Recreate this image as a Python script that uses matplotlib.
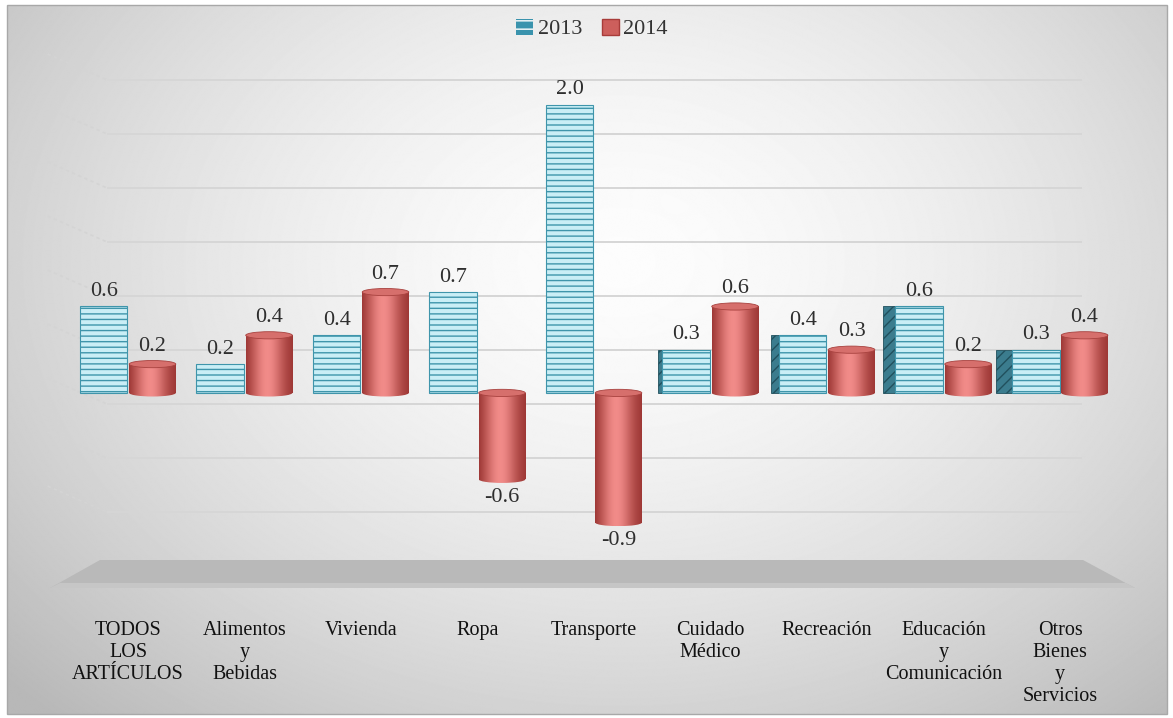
import numpy as np
import matplotlib.pyplot as plt
from matplotlib.patches import Rectangle, Ellipse, Polygon, Patch

# ---- data ----
categorias = ["TODOS\nLOS\nARTÍCULOS", "Alimentos\ny\nBebidas", "Vivienda", "Ropa",
              "Transporte", "Cuidado\nMédico", "Recreación",
              "Educación\ny\nComunicación", "Otros\nBienes\ny\nServicios"]
v2013 = [0.6, 0.2, 0.4, 0.7, 2.0, 0.3, 0.4, 0.6, 0.3]
v2014 = [0.2, 0.4, 0.7, -0.6, -0.9, 0.6, 0.3, 0.2, 0.4]
series = ["2013", "2014"]
pared = [-1.5, -1.0, -0.5, 0.0, 0.5, 1.0, 1.5, 2.0, 2.5]   # back wall grid levels

plt.rcParams['font.family'] = ['Liberation Serif', 'DejaVu Serif']
W, H = 1173, 718
fig = plt.figure(figsize=(W / 100, H / 100), dpi=100)

# ---- background, border and floor (pixel coords) ----
bg = fig.add_axes([0, 0, 1, 1])
bg.set_xlim(0, W)
bg.set_ylim(H, 0)
bg.axis('off')
yy, xx = np.mgrid[0:H, 0:W]
r = np.sqrt(((xx - 620) / 700) ** 2 + ((yy - 260) / 520) ** 2)
shade = np.clip(0.99 - 0.2 * r ** 1.6, 0.72, 1)
bg.imshow(shade, cmap='gray', vmin=0, vmax=1, extent=(7, W - 6, H - 4, 5), aspect='auto')
bg.add_patch(Rectangle((7, 5), W - 13, H - 9, fill=False, ec='#a8a8a8', lw=1))
bg.add_patch(Polygon([(100, 560), (1083, 560), (1135, 588), (50, 588)],
                     fc='#b9b9b9', ec='none'))
bg.add_patch(Polygon([(60, 583), (1126, 583), (1135, 588), (50, 588)],
                     fc='#c6c6c6', ec='none'))

# ---- main axes ----
ax = fig.add_axes([60 / W, (H - 560) / H, (1130 - 60) / W, (560 - 40) / H])
wall = ax.twinx()
wall.set_zorder(0)
ax.set_zorder(1)
ax.patch.set_visible(False)
wall.patch.set_visible(False)
ax.set_autoscale_on(False)
ax.set_xlim(-0.584, 8.6)
ax.set_ylim(-1.16, 2.45)
wall.set_ylim(-1.944, 2.870)
for a in (ax, wall):
    for s in a.spines.values():
        s.set_visible(False)
    a.set_yticks([])

# back wall grid and side wall dashes
wall.hlines(pared, -0.18, 8.19, color='#d6d6d6', lw=1.4)
for g in pared:
    wall.plot([-0.69, -0.18], [g + 0.24, g], color='#d4d4d4', lw=1.2,
              ls=(0, (2, 2)), clip_on=False)

x = np.arange(len(categorias))
wb = 0.41
wr = 0.40
off = 0.21

# 2013: hatched boxes with side face toward the centre
for xi, v in zip(x, v2013):
    if xi > 4:
        sw = 0.034 * (xi - 4)
        ax.add_patch(Rectangle((xi - off - wb / 2 - sw, 0), sw, v, fc='#3b7c8e',
                               ec='#21505d', hatch='///', lw=0.6, zorder=2.5))
ax.bar(x - off, v2013, wb, color='#c9eef6', edgecolor='#3f95ab', hatch='---',
       lw=0.8, zorder=3)

# 2014: cylinders
t = np.linspace(0, 1, 80)
light = np.sin(np.pi * t) ** 0.7 * np.exp(-((t - 0.42) / 0.45) ** 2)
dark = np.array([0.62, 0.22, 0.21])
lite = np.array([0.95, 0.55, 0.54])
grad = (dark[None, :] + light[:, None] * (lite - dark)[None, :])[None, :, :]
eh = 0.05
for xi, v in zip(x, v2014):
    x0 = xi + off - wr / 2
    lo, hi = min(0, v), max(0, v)
    body = Rectangle((x0, lo), wr, hi - lo, fc='none', ec='none')
    ax.add_patch(body)
    im = ax.imshow(grad, extent=(x0, x0 + wr, lo, hi), aspect='auto', zorder=3.5)
    im.set_clip_path(body)
    base = Ellipse((xi + off, lo), wr, eh, fc='none', ec='none')
    ax.add_patch(base)
    im2 = ax.imshow(grad, extent=(x0, x0 + wr, lo - eh / 2, lo), aspect='auto', zorder=3.5)
    im2.set_clip_path(base)
    ax.add_patch(Ellipse((xi + off, hi), wr, eh, fc='#d66f6c', ec='#a8423f',
                         lw=0.6, zorder=4))

# value labels
for xi, v in zip(x, v2013):
    ax.annotate(f"{v:.1f}", (xi - off, v), xytext=(0, 4), textcoords='offset points',
                ha='center', va='bottom', fontsize=16, color='#2e2e2e', zorder=5)
for xi, v in zip(x, v2014):
    if v >= 0:
        ax.annotate(f"{v:.1f}", (xi + off, v), xytext=(0, 6), textcoords='offset points',
                    ha='center', va='bottom', fontsize=16, color='#2e2e2e', zorder=5)
    else:
        ax.annotate(f"{v:.1f}", (xi + off, v), xytext=(0, -6), textcoords='offset points',
                    ha='center', va='top', fontsize=16, color='#2e2e2e', zorder=5)

# category labels
ax.set_xticks(x, categorias)
ax.tick_params(axis='x', length=0, pad=44, labelsize=14.5, labelcolor='#111111')
for lbl in ax.get_xticklabels():
    lbl.set_linespacing(1.22)

# legend
handles = [Patch(fc='#3a93ad', ec='white', hatch='--', lw=0),
           Patch(fc='#cd5f5c', ec='#a83c3a', lw=1)]
fig.legend(handles, series, loc='center', bbox_to_anchor=(592 / W, 1 - 29 / H),
           ncol=2, frameon=False, fontsize=16, handlelength=0.75, handleheight=0.75,
           handletextpad=0.2, columnspacing=0.9, labelcolor='#333333')

fig.savefig('out.png', dpi=100)
